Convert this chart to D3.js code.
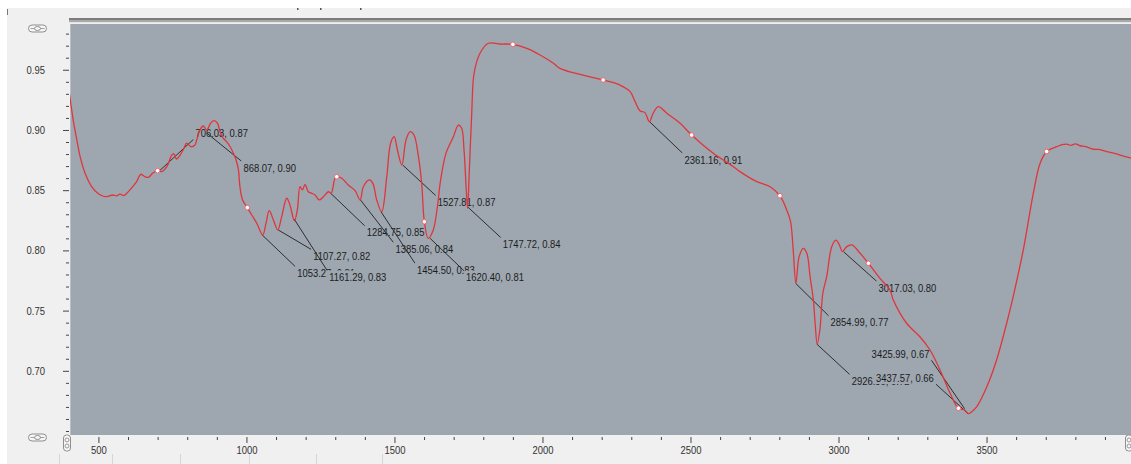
<!DOCTYPE html>
<html>
<head>
<meta charset="utf-8">
<style>
  body { margin: 0; background: #fff; }
  svg { display: block; font-family: 'Liberation Sans', Arial, sans-serif; }
</style>
</head>
<body>
<svg width="1131" height="464"></svg>
<script src="https://d3js.org/d3.v7.min.js"></script>
<script>
// spectrum (wavenumber, transmittance)
let wavenumber = [
  400, 415, 427, 438, 455, 477, 500, 522, 549, 561,
  573, 585, 596, 612, 629, 643, 657, 669, 683, 700,
  714, 731, 748, 755, 764, 776, 789, 798, 813, 826,
  832, 843, 854, 866, 879, 890, 902, 911, 922, 933,
  945, 956, 965, 973, 978, 987, 1003, 1018, 1035, 1055,
  1066, 1077, 1091, 1106, 1119, 1136, 1147, 1162, 1172, 1181,
  1189, 1198, 1209, 1221, 1232, 1246, 1260, 1277, 1286, 1299,
  1305, 1322, 1344, 1367, 1384, 1395, 1415, 1427, 1440, 1457,
  1474, 1487, 1499, 1510, 1525, 1539, 1553, 1566, 1581, 1592,
  1601, 1614, 1631, 1645, 1656, 1674, 1699, 1716, 1727, 1735,
  1742, 1747, 1753, 1761, 1769, 1789, 1817, 1857, 1900, 1947,
  1992, 2037, 2059, 2127, 2205, 2262, 2296, 2313, 2329, 2346,
  2361, 2374, 2391, 2420, 2465, 2504, 2577, 2645, 2667, 2724,
  2769, 2802, 2825, 2838, 2847, 2856, 2867, 2881, 2893, 2904,
  2915, 2921, 2928, 2937, 2947, 2960, 2977, 2991, 3003, 3013,
  3028, 3045, 3073, 3101, 3140, 3174, 3185, 3230, 3275, 3309,
  3343, 3377, 3405, 3426, 3438, 3450, 3467, 3501, 3534, 3568,
  3590, 3624, 3658, 3681, 3703, 3720, 3737, 3755, 3771, 3785,
  3800, 3816, 3835, 3861, 3880, 3906, 3930, 3951, 3990
];
let transmittance = [
  .934, .908, .892, .878, .864, .853, .847, .8446, .846, .8452,
  .8468, .8455, .8474, .8518, .8571, .8632, .8612, .8607, .864, .8662,
  .8654, .8695, .8792, .8801, .8759, .8792, .8848, .889, .8861, .8875,
  .8917, .900, .9033, .900, .9056, .9077, .9056, .8986, .8931, .8903,
  .8861, .8806, .8751, .8668, .8529, .8419, .8355, .8294, .8225, .8128,
  .8225, .833, .8253, .817, .828, .8433, .8377, .8245, .8336, .8529,
  .8502, .8549, .8487, .8474, .846, .8419, .8446, .8487, .8474, .8599,
  .8612, .8599, .8543, .8496, .8419, .8529, .8585, .8557, .8419, .8321,
  .8612, .889, .8944, .8834, .8709, .8917, .8986, .8958, .8778, .8557,
  .8238, .810, .817, .8363, .8585, .8806, .8944, .9041, .9014, .8834,
  .8529, .835, .8668, .9138, .9471, .9637, .972, .9714, .9711, .9678,
  .9623, .9554, .9512, .9461, .9415, .9373, .9318, .9235, .916, .9144,
  .9069, .9139, .9193, .9139, .9055, .8958, .8806, .8695, .8654, .8571,
  .8529, .8454, .8336, .8238, .8003, .7727, .7948, .8017, .7976, .7782,
  .7588, .7395, .7223, .7339, .7644, .7782, .8031, .8086, .8045, .7989,
  .8031, .8045, .7976, .7893, .7768, .7671, .7588, .7395, .7283, .7173,
  .7007, .6813, .6689, .6675, .6645, .666, .6702, .6868, .709, .7395,
  .7616, .8003, .8474, .8723, .8821, .8845, .8861, .8878, .8883, .8872,
  .8884, .8869, .8862, .884, .8838, .882, .8808, .8792, .8765
];

// white cursor dots on the trace
let markerX = [700, 1003, 1305, 1601, 1900, 2205, 2504, 2802, 3101, 3405, 3703];
let markerY = [.8662, .8355, .8612, .8238, .9711, .9415, .8958, .8454, .7893, .6689, .8821];

// labelled peaks
let peakX = [706.03, 868.07, 1053.27, 1107.27, 1161.29, 1284.75, 1385.06, 1454.50, 1527.81,
             1620.40, 1747.72, 2361.16, 2854.99, 2926.30, 3017.03, 3425.99, 3437.57];
let peakY = [0.866, 0.897, 0.8128, 0.817, 0.826, 0.8474, 0.8419, 0.8321, 0.8709,
             0.81, 0.836, 0.907, 0.7727, 0.7223, 0.7989, 0.6685, 0.6645];
// where each label sits relative to its peak (px)
let labelOffset = [[36, -38], [36, 34], [35, 38], [35, 26], [35, 58], [36, 39], [35, 49], [36, 58], [35, 37],
                   [36, 39], [35, 37], [35, 38], [35, 39], [35, 37], [35, 36], [-93, -55], [-92, -36]];

let xMajor = [500, 1000, 1500, 2000, 2500, 3000, 3500];
let yMajor = [0.70, 0.75, 0.80, 0.85, 0.90, 0.95];

const plot = { left: 70, right: 1131, top: 24, bottom: 435 };
const S = 0.86;   // narrow font look
const bg = "#9ea7b0";

let svg = d3.select("svg");

// window chrome
svg.append("rect").attr("x", 7).attr("y", 8).attr("width", 1124).attr("height", 456).attr("fill", "#f0f0f0");
svg.append("line").attr("x1", 7.5).attr("x2", 7.5).attr("y1", 9).attr("y2", 15).attr("stroke", "#777");
[297, 320, 360].forEach(v => svg.append("rect").attr("x", v).attr("y", 8).attr("width", 1.5).attr("height", 2).attr("fill", "#555"));
svg.append("rect").attr("x", 69).attr("y", 18).attr("width", 1062).attr("height", 2).attr("fill", "#7c7c7c");
svg.append("rect").attr("x", 69).attr("y", 20).attr("width", 1062).attr("height", 2).attr("fill", "#a9a9a9");
svg.append("rect").attr("x", 69).attr("y", 22).attr("width", 1062).attr("height", 1).attr("fill", "#e4e4e4");
[59, 112, 180, 249, 316, 382].forEach(v => svg.append("line").attr("x1", v + .5).attr("x2", v + .5)
  .attr("y1", 454).attr("y2", 464).attr("stroke", "#d6d6d6"));

// plot area
svg.append("rect").attr("x", plot.left).attr("y", plot.top)
  .attr("width", plot.right - plot.left).attr("height", plot.bottom - plot.top).attr("fill", bg);
svg.append("line").attr("x1", plot.left + .5).attr("x2", plot.left + .5).attr("y1", plot.top).attr("y2", plot.bottom)
  .attr("stroke", "#b9bfc5");

let x = d3.scaleLinear().domain([404, 3988]).range([plot.left, plot.right]);
let y = d3.scaleLinear().domain([0.6467, 0.988]).range([plot.bottom, plot.top]);

// axes
let xMinor = d3.range(500, 3990, 100).filter(v => !xMajor.includes(v));
let yMinor = d3.range(65, 99, 1).map(v => v / 100).filter(v => !yMajor.some(m => Math.abs(m - v) < 1e-6));

let gx = svg.append("g").attr("transform", `translate(0,${plot.bottom + 2})`);
gx.append("g").call(d3.axisBottom(x).tickValues(xMinor).tickSize(3).tickFormat(""));
gx.append("g").call(d3.axisBottom(x).tickValues(xMajor).tickSize(6).tickPadding(3).tickFormat(d3.format("d")));

let gy = svg.append("g").attr("transform", `translate(${plot.left - 1},0)`);
gy.append("g").call(d3.axisLeft(y).tickValues(yMinor).tickSize(3).tickFormat(""));
gy.append("g").call(d3.axisLeft(y).tickValues(yMajor).tickSize(6).tickPadding(18).tickFormat(d3.format(".2f")));

svg.selectAll(".domain").remove();
[gx, gy].forEach(g => g.selectAll("g").attr("font-size", 11).attr("font-family", null).style("color", "#444"));
gx.selectAll("text").attr("fill", "#333").attr("transform", `scale(${S},1)`);
gy.selectAll("text").attr("fill", "#333").attr("transform", `translate(${-24 * (1 - S)},0) scale(${S},1)`);

// little zoom buttons
function hButton(cx, cy) {
  svg.append("rect").attr("x", cx - 9).attr("y", cy - 3.5).attr("width", 18).attr("height", 7).attr("rx", 3.5)
    .attr("fill", "#f6f6f6").attr("stroke", "#8e8e8e");
  svg.append("line").attr("x1", cx - 7).attr("x2", cx + 7).attr("y1", cy).attr("y2", cy).attr("stroke", "#a0a0a0");
  svg.append("ellipse").attr("cx", cx).attr("cy", cy).attr("rx", 3).attr("ry", 2)
    .attr("fill", "#f6f6f6").attr("stroke", "#8e8e8e");
}
function vButton(cx, cy) {
  svg.append("rect").attr("x", cx - 3.5).attr("y", cy - 8).attr("width", 7).attr("height", 16).attr("rx", 3)
    .attr("fill", "#f6f6f6").attr("stroke", "#8e8e8e");
  [-3, 3].forEach(o => svg.append("circle").attr("cx", cx).attr("cy", cy + o).attr("r", 2)
    .attr("fill", "none").attr("stroke", "#999"));
}
hButton(37.5, 28.5);
hButton(37.5, 437.5);
vButton(67, 443);
vButton(1129, 443);

// annotations
let ann = svg.append("g").attr("font-size", 11).attr("fill", "#1c1c1c");
peakX.forEach((px, i) => {
  let cx = x(px), cy = y(peakY[i]);
  let [dx, dy] = labelOffset[i];
  let left = cx + dx, mid = cy + dy;
  let g = ann.append("g");
  let line = g.append("line").attr("stroke", "#2e2e2e").attr("stroke-width", 1);
  let box = g.append("rect").attr("fill", bg);
  let t = g.append("text")
    .attr("transform", `translate(${left},${mid + 4}) scale(${S},1)`)
    .text(`${px.toFixed(2)}, ${peakY[i].toFixed(2)}`);
  let tw = t.node().getComputedTextLength() * S;
  box.attr("x", left - 2).attr("y", mid - 6.5).attr("width", tw + 4).attr("height", 13);
  let ex = dx > 0 ? left - 2 : left + tw + 2;
  let ey = dy > 0 ? mid - 6.5 : mid + 6.5;
  line.attr("x1", cx).attr("y1", cy).attr("x2", ex).attr("y2", ey);
});

// trace
svg.append("clipPath").attr("id", "clip").append("rect")
  .attr("x", plot.left).attr("y", plot.top).attr("width", plot.right - plot.left).attr("height", plot.bottom - plot.top);

let line = d3.line()
  .x((d, i) => x(wavenumber[i]))
  .y(d => y(d))
  .curve(d3.curveCatmullRom.alpha(0.5));

svg.append("path")
  .attr("clip-path", "url(#clip)")
  .attr("d", line(transmittance))
  .attr("fill", "none")
  .attr("stroke", "#e0353c")
  .attr("stroke-width", 1.3);

svg.selectAll(".marker")
  .data(markerX)
  .join("circle")
  .attr("class", "marker")
  .attr("cx", d => x(d))
  .attr("cy", (d, i) => y(markerY[i]))
  .attr("r", 2.3)
  .attr("fill", "#fff")
  .attr("stroke", "#e86a70")
  .attr("stroke-width", 1);
</script>
</body>
</html>
